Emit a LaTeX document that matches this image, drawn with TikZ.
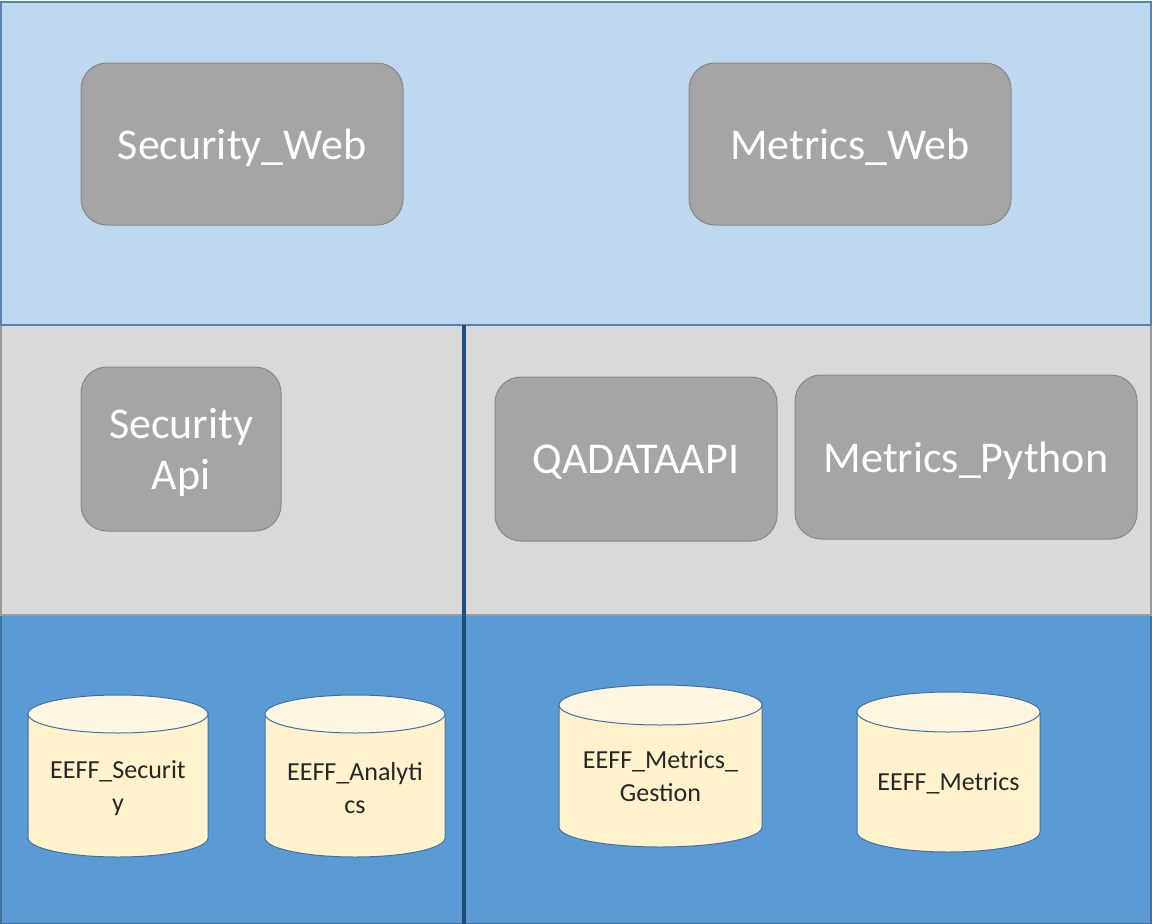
\documentclass[tikz,border=0pt]{standalone}
\usepackage{fontspec}
\setmainfont{Carlito}
\definecolor{topfill}{HTML}{BDD7EE}
\definecolor{topline}{HTML}{5A82AE}
\definecolor{midfill}{HTML}{D9D9D9}
\definecolor{midline}{HTML}{9A9A9A}
\definecolor{botfill}{HTML}{5B9BD5}
\definecolor{botline}{HTML}{41719C}
\definecolor{divider}{HTML}{1F4E79}
\definecolor{appfill}{HTML}{A5A5A5}
\definecolor{appline}{HTML}{888888}
\definecolor{cylbody}{HTML}{FFF2CC}
\definecolor{cyltop}{HTML}{FFF6E2}
\definecolor{cylline}{HTML}{41719C}
\tikzset{
  app/.style={draw=appline, line width=1pt, fill=appfill, rounded corners=26pt,
    text=white, font=\fontsize{44}{51}\selectfont, align=center, inner sep=0pt,
    text depth=0pt},
  dblabel/.style={text=black!85, font=\fontsize{26}{33}\selectfont, align=center, inner sep=0pt},
  cylstroke/.style={draw=cylline, line width=1pt}
}
% database drum: #1 centre x, #2 top axis y, #3 bottom axis y, #4 x radius, #5 y radius
\newcommand{\drum}[5]{%
  \filldraw[cylstroke, fill=cylbody] (#1-#4,#2) -- (#1-#4,#3)
    arc[start angle=180, end angle=0, x radius=#4, y radius=#5] -- (#1+#4,#2) -- cycle;
  \filldraw[cylstroke, fill=cyltop] (#1,#2) ellipse[x radius=#4, y radius=#5];
}
\begin{document}
\begin{tikzpicture}[x=1pt,y=-1pt]
\useasboundingbox (0,0) rectangle (1152,924);
% layers
\filldraw[fill=botfill, draw=botline, line width=1.5pt] (1,615) rectangle (1151,924);
\filldraw[fill=midfill, draw=midline, line width=1.5pt] (1,325) rectangle (1151,615);
\filldraw[fill=topfill, draw=topline, line width=1.5pt] (1,2) rectangle (1151,325);
\coordinate (divtop) at (464,325);
\coordinate (divbot) at (464,924);
\draw[divider, line width=3.5pt] (divtop) -- (divbot);
% applications
\node[app, minimum width=322pt, minimum height=162pt] (secweb) at (242,144) {Security\_Web};
\node[app, minimum width=322pt, minimum height=162pt] (metweb) at (850,144) {Metrics\_Web};
\node[app, minimum width=200pt, minimum height=164pt] (secapi) at (181,449) {Security\\Api};
\node[app, minimum width=282pt, minimum height=164pt] (qadata) at (636,459) {QADATAAPI};
\node[app, minimum width=342pt, minimum height=164pt] (metpy) at (966,457) {Metrics\_Python};
% databases
\drum{118}{714}{838}{90}{19}
\node[dblabel] (dbsec) at (118,788) {EEFF\_Securit\\y};
\drum{355}{714}{838}{90}{19}
\node[dblabel] (dbana) at (355,788) {EEFF\_Analyti\\cs};
\drum{660.5}{705}{827}{101.5}{20}
\node[dblabel] (dbgest) at (660.5,776) {EEFF\_Metrics\_\\Gestion};
\drum{948.5}{712}{832}{91.5}{20}
\node[dblabel] (dbmet) at (948.5,783) {EEFF\_Metrics};
\end{tikzpicture}
\end{document}
